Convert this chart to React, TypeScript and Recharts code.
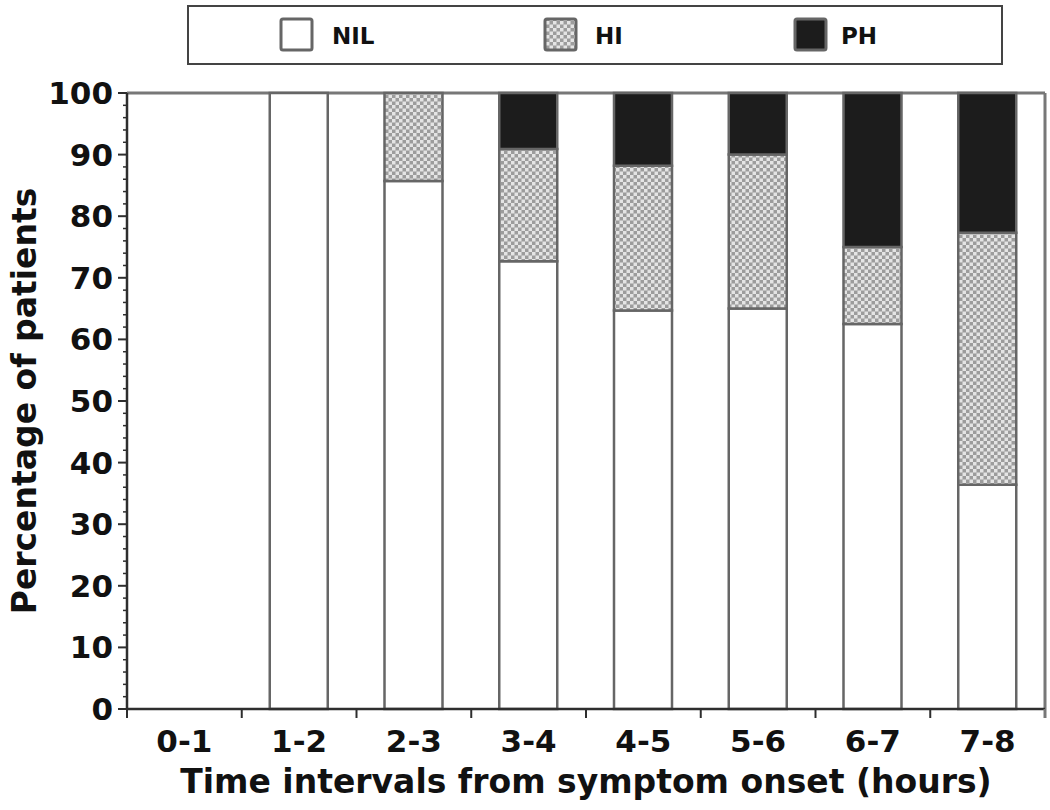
import React from 'react';
import { BarChart, Bar, XAxis, YAxis, Legend, CartesianGrid } from 'recharts';

const categories = ['0-1', '1-2', '2-3', '3-4', '4-5', '5-6', '6-7', '7-8'];
const nilValues = [0, 100, 85.7, 72.7, 64.7, 65, 62.5, 36.4];
const hiValues = [0, 0, 14.3, 18.2, 23.5, 25, 12.5, 40.9];
const phValues = [0, 0, 0, 9.1, 11.8, 10, 25, 22.7];
const yMajorTicks = [0, 10, 20, 30, 40, 50, 60, 70, 80, 90, 100];
const yAllTicks = [0, 2, 4, 6, 8, 10, 12, 14, 16, 18, 20, 22, 24, 26, 28, 30, 32, 34, 36, 38, 40, 42, 44, 46, 48, 50, 52, 54, 56, 58, 60, 62, 64, 66, 68, 70, 72, 74, 76, 78, 80, 82, 84, 86, 88, 90, 92, 94, 96, 98, 100];
const seriesNames = ['NIL', 'HI', 'PH'];

const data = categories.map((name, i) => ({
  name,
  NIL: nilValues[i],
  HI: hiValues[i],
  PH: phValues[i],
}));

const FONT = '"DejaVu Sans", sans-serif';
const AXIS_COLOR = '#2e2e2e';
const BAR_STROKE = '#666';

const YTick = (props: any) => {
  const { x, y, payload } = props;
  const v = payload.value;
  const major = yMajorTicks.includes(v);
  return (
    <g>
      <line x1={x - (major ? 9 : 4)} x2={x} y1={y} y2={y} stroke={AXIS_COLOR} strokeWidth={major ? 2 : 1.5} />
      {major && (
        <text x={x - 14} y={y} textAnchor="end" dominantBaseline="central" fontFamily={FONT} fontWeight="bold" fontSize={31} fill="#111">
          {v}
        </text>
      )}
    </g>
  );
};

const XTick = (props: any) => {
  const { x, y, payload, index } = props;
  const w = typeof props.width === 'number' && props.width > 0 ? props.width : 918;
  const half = w / categories.length / 2;
  return (
    <g>
      <line x1={x - half} x2={x - half} y1={y} y2={y + 9} stroke={AXIS_COLOR} strokeWidth={2} />
      {index === categories.length - 1 && (
        <line x1={x + half} x2={x + half} y1={y} y2={y + 9} stroke="#777" strokeWidth={3} />
      )}
      <text x={x} y={y + 43} textAnchor="middle" fontFamily={FONT} fontWeight="bold" fontSize={31} fill="#111">
        {payload.value}
      </text>
    </g>
  );
};

const legendFills: Record<string, string> = {
  NIL: '#ffffff',
  HI: 'url(#hiPattern)',
  PH: '#1c1c1c',
};
const legendBoxX = [92, 356, 606];
const legendTextX = [143, 406, 652];

const LegendContent = () => (
  <svg width={812} height={56} style={{ display: 'block' }}>
    {seriesNames.map((n, i) => (
      <g key={n}>
        <rect x={legendBoxX[i]} y={12} width={31} height={31} rx={2} fill={legendFills[n]} stroke={BAR_STROKE} strokeWidth={3} />
        <text x={legendTextX[i]} y={37} fontFamily={FONT} fontWeight="bold" fontSize={23} fill="#111">
          {n}
        </text>
      </g>
    ))}
  </svg>
);

const YLabel = (props: any) => {
  const vb = props.viewBox || { x: 0, y: 93, width: 127, height: 616 };
  const cx = vb.x + 24;
  const cy = vb.y + vb.height / 2;
  return (
    <text x={cx} y={cy} transform={`rotate(-90, ${cx}, ${cy})`} textAnchor="middle" dominantBaseline="central" fontFamily={FONT} fontWeight="bold" fontSize={33} fill="#111">
      Percentage of patients
    </text>
  );
};

const XLabel = (props: any) => {
  const vb = props.viewBox || { x: 127, y: 709, width: 918, height: 101 };
  return (
    <text x={vb.x + vb.width / 2} y={vb.y + 84} textAnchor="middle" fontFamily={FONT} fontWeight="bold" fontSize={33} fill="#111">
      Time intervals from symptom onset (hours)
    </text>
  );
};

const topLine = (p: any) => [p.offset.top];
const rightLine = (p: any) => [p.offset.left + p.offset.width];

export default function App() {
  return (
    <div style={{ position: 'absolute', left: 0, top: 0, width: 1050, height: 810, background: '#fff' }}>
      <svg width={0} height={0} style={{ position: 'absolute' }}>
        <defs>
          <pattern id="hiPattern" patternUnits="userSpaceOnUse" width={7} height={7}>
            <rect x={0} y={0} width={7} height={7} fill="#9c9c9c" />
            <rect x={0} y={0} width={3.5} height={3.5} fill="#e4e4e4" />
            <rect x={3.5} y={3.5} width={3.5} height={3.5} fill="#e4e4e4" />
          </pattern>
        </defs>
      </svg>
      <BarChart width={1050} height={810} data={data} margin={{ top: 93, right: 5, left: 0, bottom: 0 }}>
        <CartesianGrid
          stroke="#777"
          strokeWidth={3}
          horizontalCoordinatesGenerator={topLine}
          verticalCoordinatesGenerator={rightLine}
        />
        <XAxis
          dataKey="name"
          height={101}
          tickSize={0}
          tickMargin={0}
          tickLine={false}
          axisLine={{ stroke: AXIS_COLOR, strokeWidth: 2.5 }}
          tick={<XTick />}
          interval={0}
          label={<XLabel />}
        />
        <YAxis
          width={127}
          domain={[0, 100]}
          ticks={yAllTicks}
          interval={0}
          tickSize={0}
          tickMargin={0}
          tickLine={false}
          axisLine={{ stroke: AXIS_COLOR, strokeWidth: 2.5 }}
          tick={<YTick />}
          label={<YLabel />}
        />
        <Legend
          layout="horizontal"
          verticalAlign="middle"
          align="center"
          content={<LegendContent />}
          wrapperStyle={{ position: 'absolute', left: 187, top: 5, width: 816, height: 60, border: '2px solid #444', boxSizing: 'border-box', background: '#fff' }}
        />
        <Bar dataKey="NIL" stackId="a" barSize={58} fill="#ffffff" stroke={BAR_STROKE} strokeWidth={2.5} isAnimationActive={false} />
        <Bar dataKey="HI" stackId="a" barSize={58} fill="url(#hiPattern)" stroke={BAR_STROKE} strokeWidth={2.5} isAnimationActive={false} />
        <Bar dataKey="PH" stackId="a" barSize={58} fill="#1c1c1c" stroke={BAR_STROKE} strokeWidth={2.5} isAnimationActive={false} />
      </BarChart>
    </div>
  );
}
